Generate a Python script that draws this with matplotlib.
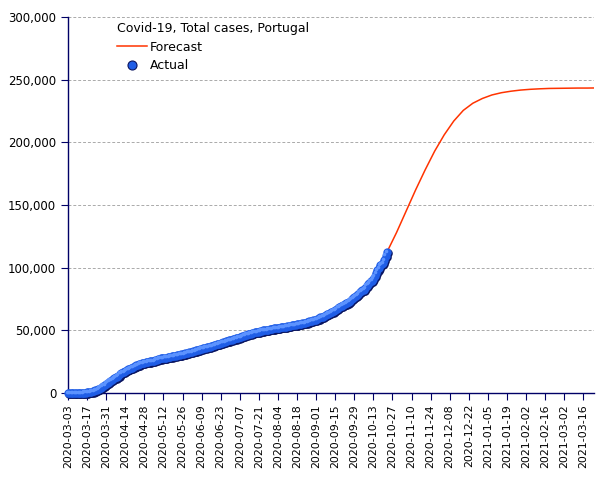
import matplotlib
matplotlib.use("Agg")
import matplotlib.pyplot as plt
import matplotlib.transforms as mtransforms
from matplotlib.lines import Line2D
from matplotlib.ticker import FuncFormatter
import pandas as pd
import numpy as np

# ---- data ----
mar = [4, 6, 9, 13, 21, 30, 39, 41, 59, 78, 112, 169, 245, 331, 448, 642, 785, 1020, 1280, 1600,
       2060, 2362, 2995, 3544, 4268, 5170, 5962, 6408, 7443]
apr = [8251, 9034, 9886, 10524, 11278, 11730, 12442, 13141, 13956, 15472, 15987, 16585, 16934, 17448,
       18091, 18841, 19022, 19685, 20206, 20863, 21379, 21982, 22353, 22797, 23392, 23864, 24027,
       24322, 24505, 24692]
may = [25045, 25190, 25282, 25351, 25702, 26182, 26715, 27268, 27406, 27581, 27679, 27913, 28132,
       28319, 28583, 28810, 29036, 29209, 29432, 29660, 29912, 30200, 30471, 30623, 30788, 31007,
       31292, 31596, 31946, 32203, 32500]
jun = [32700, 32895, 33261, 33592, 33969, 34351, 34693, 34885, 35306, 35600, 35910, 36180, 36463,
       36690, 37036, 37336, 37672, 38089, 38464, 38841, 39133, 39392, 39737, 40104, 40415, 40866,
       41189, 41646, 41912, 42141]
jul = [42454, 42782, 43156, 43569, 43897, 44129, 44416, 44859, 45277, 45679, 46221, 46512, 46818,
       47051, 47426, 47765, 48077, 48390, 48636, 48771, 48898, 49379, 49692, 49955, 50164, 50299,
       50410, 50613, 50868, 51072, 51222]
aug = [51463, 51569, 51681, 51848, 52061, 52351, 52537, 52668, 52825, 52945, 53223, 53548, 53783,
       53981, 54234, 54354, 54448, 54701, 54992, 55211, 55452, 55597, 55720, 55912, 56274, 56673,
       57074, 57448, 57768, 58012, 58243]
sep = [58633, 59051, 59457, 60258, 60507, 60895, 61541, 62126, 62813, 63310, 63983, 64596, 65021,
       65626, 66396, 67176, 68025, 68577, 69200, 69663, 70465, 71156, 71475, 72055, 72939, 73604,
       74717, 75542, 76396, 77284]
octo = [78247, 79151, 80310, 81256, 81871, 82534, 83928, 85574, 86664, 87913, 89121, 89640, 91193,
        93294, 95902, 98055, 99911, 101860, 102800, 103736, 106271, 109541, 112440]
actual_start = "2020-03-03"

forecast_start = "2020-10-23"
forecast = [112440, 128000, 145000, 162000, 178000, 193000, 206000, 217000, 225500, 231200,
            235000, 237800, 239600, 240800, 241700, 242300, 242700, 243000, 243100, 243200,
            243300, 243300, 243400]

tick_dates = pd.date_range("2020-03-03", "2021-03-16", freq="14D")

actual = mar + apr + may + jun + jul + aug + sep + octo
actual_dates = pd.date_range(actual_start, periods=len(actual), freq="D")
forecast_dates = pd.date_range(forecast_start, periods=len(forecast), freq="7D")

# ---- figure ----
fig = plt.figure(figsize=(6.05, 4.80), dpi=100)
ax = fig.add_axes([68 / 605, 87 / 480, 525.6 / 605, 376 / 480])

navy = "#000066"
ax.set_ylim(0, 300000)
ax.set_xlim(pd.Timestamp("2020-03-03"), pd.Timestamp("2021-03-23 14:00"))

ax.yaxis.set_major_locator(plt.MultipleLocator(50000))
ax.yaxis.set_major_formatter(FuncFormatter(lambda v, p: f"{int(v):,}"))
ax.grid(axis="y", color="#aaaaaa", linestyle=(0, (3, 2)), linewidth=0.7)
ax.set_axisbelow(True)

for s in ["top", "right"]:
    ax.spines[s].set_visible(False)
for s in ["left", "bottom"]:
    ax.spines[s].set_color(navy)
    ax.spines[s].set_linewidth(1.0)

ax.set_xticks(tick_dates)
ax.set_xticklabels([d.strftime("%Y-%m-%d") for d in tick_dates], rotation=90, fontsize=7.9)
ax.tick_params(axis="x", colors=navy, length=5, labelcolor="black", pad=3)
ax.tick_params(axis="y", colors=navy, length=5, labelcolor="black", labelsize=8.5)

# forecast line
ax.plot(forecast_dates, forecast, color="#ff3300", lw=1.1, zorder=2)

# actual markers: sphere-like shading
shadow_tr = mtransforms.offset_copy(ax.transData, fig=fig, x=0.8, y=-0.8, units="points")
hl_tr = mtransforms.offset_copy(ax.transData, fig=fig, x=-0.9, y=0.9, units="points")
ax.plot(actual_dates, actual, "o", ms=6.2, color="#0a1560", mec="none", transform=shadow_tr,
        zorder=3, clip_on=False)
ax.plot(actual_dates, actual, "o", ms=6.0, color="#1f5de6", mec="none", zorder=4, clip_on=False)
ax.plot(actual_dates, actual, "o", ms=2.6, color="#5c93ff", mec="none", transform=hl_tr,
        zorder=5, clip_on=False)

handles = [Line2D([], [], color="#ff3300", lw=1.1),
           Line2D([], [], ls="none", marker="o", ms=6.5, color="#1f5de6", mec="#0a1560", mew=0.8)]
leg = ax.legend(handles, ["Forecast", "Actual"], title="Covid-19, Total cases, Portugal",
                loc="upper left", bbox_to_anchor=(0.083, 1.0), frameon=False, fontsize=9,
                title_fontsize=9, handlelength=2.4, handletextpad=0.25, labelspacing=0.45,
                borderaxespad=0)
leg._legend_box.align = "left"

fig.savefig("out.png", dpi=100)
